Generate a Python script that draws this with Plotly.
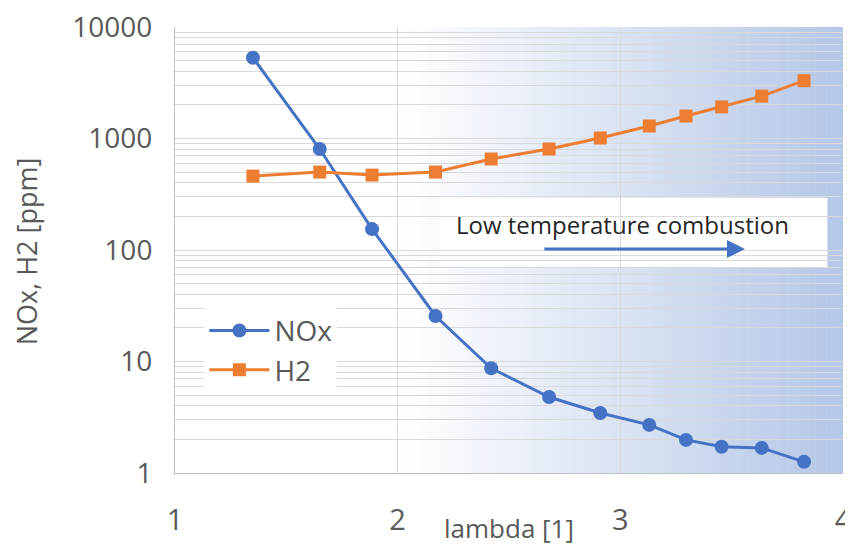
import plotly.graph_objects as go

# Data
lam = [1.35, 1.65, 1.885, 2.17, 2.42, 2.68, 2.91, 3.13, 3.295, 3.455, 3.635, 3.825]
nox = [5300, 805, 154, 25.6, 8.7, 4.8, 3.45, 2.7, 1.98, 1.72, 1.68, 1.26]
h2 = [460, 500, 470, 500, 655, 805, 1010, 1295, 1590, 1920, 2400, 3300]

x_ticks = [1, 2, 3, 4]
y_ticks = [1, 10, 100, 1000, 10000]
y_ticklabels = ["1", "10", "100", "1000", "10000"]

FONT = "Open Sans"
TICK_COLOR = "#595959"
GRID = "#D9D9D9"

fig = go.Figure()
fig.add_trace(go.Scatter(
    x=lam, y=nox, name="NOx", mode="lines+markers",
    line=dict(color="#4472C4", width=3),
    marker=dict(symbol="circle", size=14, color="#4472C4"),
))
fig.add_trace(go.Scatter(
    x=lam, y=h2, name="H2", mode="lines+markers",
    line=dict(color="#ED7D31", width=3),
    marker=dict(symbol="square", size=13, color="#ED7D31"),
))

# gradient background (white at lambda=2 -> light blue at lambda=4)
n = 80
c0 = (255, 255, 255)
c1 = (180, 199, 231)
shapes = []
for i in range(n):
    t = (i + 0.5) / n
    col = tuple(round(c0[k] + (c1[k] - c0[k]) * t) for k in range(3))
    x0 = 2 + 2 * i / n
    x1 = 2 + 2 * (i + 1) / n + 0.002
    shapes.append(dict(type="rect", xref="x", yref="paper", x0=x0, x1=min(x1, 4),
                       y0=0, y1=1, fillcolor="rgb(%d,%d,%d)" % col,
                       line=dict(width=0), layer="below"))
# white box behind annotation text
shapes.append(dict(type="rect", xref="x", yref="paper", x0=2.19, x1=3.93,
                   y0=0.462, y1=0.617, fillcolor="white",
                   line=dict(width=0), layer="between"))

fig.update_layout(
    width=845, height=537,
    margin=dict(l=167, r=10, t=19, b=72, autoexpand=False),
    paper_bgcolor="white", plot_bgcolor="white",
    font=dict(family=FONT, color=TICK_COLOR, size=28),
    shapes=shapes,
    showlegend=True,
    legend=dict(x=0.044, y=0.375, xanchor="left", yanchor="top",
                bgcolor="white", font=dict(size=28, color=TICK_COLOR),
                itemwidth=60, tracegroupgap=0),
    xaxis=dict(range=[1, 4], tickvals=x_ticks, showgrid=True, gridcolor=GRID,
               gridwidth=1, zeroline=False, showline=True, linecolor="#BFBFBF",
               linewidth=1, ticks="", ticklabelstandoff=21, automargin=False,
               ticklabeloverflow="allow",
               tickfont=dict(size=29, color=TICK_COLOR)),
    yaxis=dict(type="log", range=[0, 4], tickvals=y_ticks, ticktext=y_ticklabels,
               showgrid=True, gridcolor=GRID, gridwidth=1, zeroline=False,
               showline=True, linecolor="#BFBFBF", linewidth=1, ticks="",
               ticklabelstandoff=16, automargin=False, ticklabeloverflow="allow",
               minor=dict(showgrid=True, gridcolor=GRID, gridwidth=1, dtick="D1"),
               tickfont=dict(size=28, color=TICK_COLOR)),
    annotations=[
        dict(text="lambda [1]", xref="paper", yref="paper", x=0.5, y=-0.123,
             xanchor="center", yanchor="middle", showarrow=False,
             font=dict(size=26, color=TICK_COLOR)),
        dict(text="NOx, H2 [ppm]", xref="paper", yref="paper", x=-0.221, y=0.498,
             xanchor="center", yanchor="middle", showarrow=False, textangle=-90,
             font=dict(size=27, color=TICK_COLOR)),
        dict(text="Low temperature combustion", xref="x", yref="paper",
             x=3.01, y=0.557, xanchor="center", yanchor="middle", showarrow=False,
             font=dict(size=24, color="#262626")),
        dict(text="", xref="x", yref="y domain", x=3.56, y=0.502,
             ax=2.652, ay=0.502, axref="x", ayref="y domain",
             showarrow=True, arrowhead=2, arrowsize=1.2, arrowwidth=3,
             arrowcolor="#4472C4"),
    ],
)

fig.write_html("out.html")
